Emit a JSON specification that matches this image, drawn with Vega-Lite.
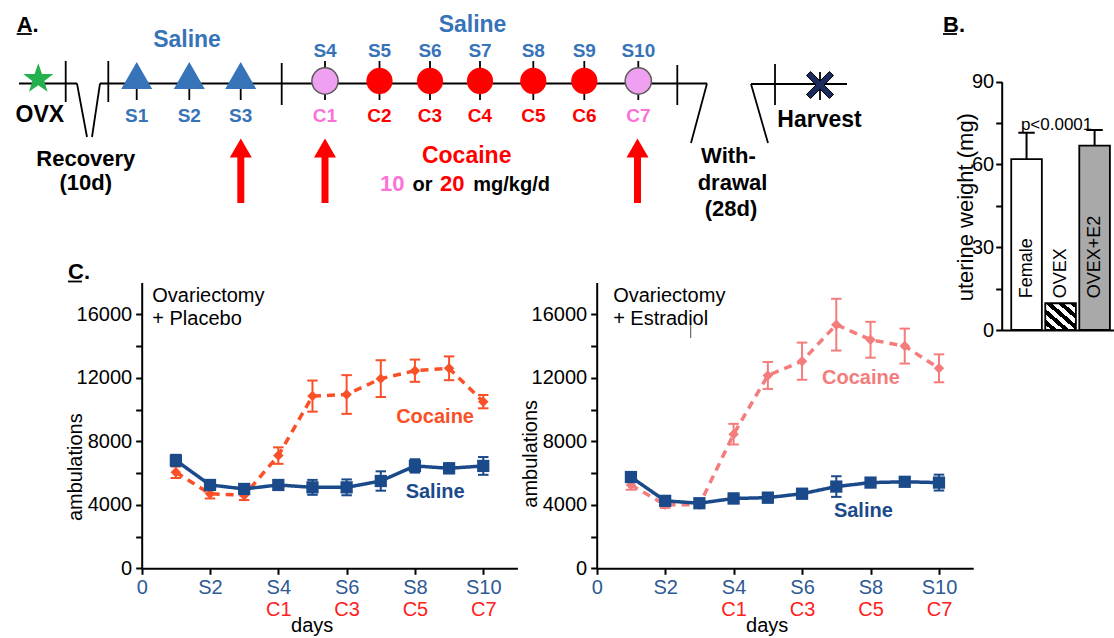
{
  "$schema": "https://vega.github.io/schema/vega-lite/v6.json",
  "width": 1114,
  "height": 638,
  "autosize": {"type": "none"},
  "padding": 0,
  "background": "#ffffff",
  "config": {
    "font": "Liberation Sans",
    "view": {"stroke": null},
    "axis": {"grid": false, "domainColor": "#000000", "domainWidth": 2, "tickColor": "#000000", "tickWidth": 2, "tickSize": 6, "labelColor": "#000000", "titleColor": "#000000", "labelFontSize": 20, "titleFontSize": 20, "titleFontWeight": "normal", "labelFlush": false, "labelOverlap": false}
  },
  "datasets": {
    "schematic": [
      {"kind": "line", "group": "black", "x": 19, "y": 83.5, "x2": 77, "y2": 83.5},
      {"kind": "line", "group": "black", "x": 77, "y": 83.5, "x2": 87, "y2": 137},
      {"kind": "line", "group": "black", "x": 92, "y": 137, "x2": 100, "y2": 83.5},
      {"kind": "line", "group": "black", "x": 100, "y": 83.5, "x2": 707, "y2": 83.5},
      {"kind": "line", "group": "black", "x": 707, "y": 83.5, "x2": 691, "y2": 143},
      {"kind": "line", "group": "black", "x": 751, "y": 84, "x2": 768, "y2": 143},
      {"kind": "line", "group": "black", "x": 751, "y": 84, "x2": 847, "y2": 84},
      {"kind": "line", "group": "black", "x": 65.7, "y": 61, "x2": 65.7, "y2": 102},
      {"kind": "line", "group": "black", "x": 108.3, "y": 61, "x2": 108.3, "y2": 102},
      {"kind": "line", "group": "black", "x": 281.7, "y": 63, "x2": 281.7, "y2": 105},
      {"kind": "line", "group": "black", "x": 677.3, "y": 65, "x2": 677.3, "y2": 105},
      {"kind": "line", "group": "black", "x": 775, "y": 64, "x2": 775, "y2": 105},
      {"kind": "line", "group": "black", "x": 136.7, "y": 85, "x2": 136.7, "y2": 100},
      {"kind": "line", "group": "black", "x": 189.3, "y": 85, "x2": 189.3, "y2": 100},
      {"kind": "line", "group": "black", "x": 240.7, "y": 85, "x2": 240.7, "y2": 100},
      {"kind": "line", "group": "black", "x": 325, "y": 61, "x2": 325, "y2": 100},
      {"kind": "line", "group": "black", "x": 379.5, "y": 61, "x2": 379.5, "y2": 100},
      {"kind": "line", "group": "black", "x": 430, "y": 61, "x2": 430, "y2": 100},
      {"kind": "line", "group": "black", "x": 480, "y": 61, "x2": 480, "y2": 100},
      {"kind": "line", "group": "black", "x": 533.3, "y": 61, "x2": 533.3, "y2": 100},
      {"kind": "line", "group": "black", "x": 584.3, "y": 61, "x2": 584.3, "y2": 100},
      {"kind": "line", "group": "black", "x": 638.3, "y": 61, "x2": 638.3, "y2": 100},
      {"kind": "line", "group": "black", "x": 820, "y": 72, "x2": 820, "y2": 100},
      {"kind": "line", "group": "black", "x": 16.7, "y": 34, "x2": 31.7, "y2": 34},
      {"kind": "line", "group": "black", "x": 943, "y": 34, "x2": 957, "y2": 34},
      {"kind": "line", "group": "black", "x": 68, "y": 281.5, "x2": 82, "y2": 281.5},
      {"kind": "hair", "group": "black", "x": 690.7, "y": 323, "x2": 690.7, "y2": 338},
      {"kind": "arrow", "group": "cocaine20", "x": 240.8, "y": 148, "y2": 203},
      {"kind": "arrow", "group": "cocaine20", "x": 325, "y": 148, "y2": 203},
      {"kind": "arrow", "group": "cocaine20", "x": 637.5, "y": 148, "y2": 203},
      {"kind": "star", "group": "ovx", "x": 38.3, "y": 79},
      {"kind": "triangle", "group": "saline", "x": 136.7, "y": 75.5},
      {"kind": "triangle", "group": "saline", "x": 189.3, "y": 75.5},
      {"kind": "triangle", "group": "saline", "x": 240.7, "y": 75.5},
      {"kind": "dose", "group": "cocaine10", "x": 325, "y": 81},
      {"kind": "dose", "group": "cocaine20", "x": 379.5, "y": 81},
      {"kind": "dose", "group": "cocaine20", "x": 430, "y": 81},
      {"kind": "dose", "group": "cocaine20", "x": 480, "y": 81},
      {"kind": "dose", "group": "cocaine20", "x": 533.3, "y": 81},
      {"kind": "dose", "group": "cocaine20", "x": 584.3, "y": 81},
      {"kind": "dose", "group": "cocaine10", "x": 638.3, "y": 81},
      {"kind": "harvest", "group": "harvest", "x": 820, "y": 85},
      {"kind": "label", "group": "black", "x": 39.8, "y": 121.7, "text": "OVX"},
      {"kind": "label2", "group": "black", "x": 85.8, "y": 165.5, "text": "Recovery"},
      {"kind": "label2", "group": "black", "x": 85.8, "y": 190, "text": "(10d)"},
      {"kind": "label", "group": "saline", "x": 187, "y": 46.7, "text": "Saline"},
      {"kind": "label", "group": "saline", "x": 472.5, "y": 31.7, "text": "Saline"},
      {"kind": "label", "group": "cocaine20", "x": 466.7, "y": 163.3, "text": "Cocaine"},
      {"kind": "label2", "group": "black", "x": 728.5, "y": 163.3, "text": "With-"},
      {"kind": "label2", "group": "black", "x": 732.5, "y": 189.5, "text": "drawal"},
      {"kind": "label2", "group": "black", "x": 731, "y": 216, "text": "(28d)"},
      {"kind": "label", "group": "black", "x": 819.5, "y": 126.7, "text": "Harvest"},
      {"kind": "sub", "group": "saline", "x": 136.7, "y": 121.7, "text": "S1"},
      {"kind": "sub", "group": "saline", "x": 189.3, "y": 121.7, "text": "S2"},
      {"kind": "sub", "group": "saline", "x": 240.7, "y": 121.7, "text": "S3"},
      {"kind": "sub", "group": "saline", "x": 325, "y": 56.7, "text": "S4"},
      {"kind": "sub", "group": "saline", "x": 379.5, "y": 56.7, "text": "S5"},
      {"kind": "sub", "group": "saline", "x": 430, "y": 56.7, "text": "S6"},
      {"kind": "sub", "group": "saline", "x": 480, "y": 56.7, "text": "S7"},
      {"kind": "sub", "group": "saline", "x": 533.3, "y": 56.7, "text": "S8"},
      {"kind": "sub", "group": "saline", "x": 584.3, "y": 56.7, "text": "S9"},
      {"kind": "sub", "group": "saline", "x": 638.3, "y": 56.7, "text": "S10"},
      {"kind": "sub", "group": "cocaine10label", "x": 325, "y": 122, "text": "C1"},
      {"kind": "sub", "group": "cocaine20", "x": 379.5, "y": 122, "text": "C2"},
      {"kind": "sub", "group": "cocaine20", "x": 430, "y": 122, "text": "C3"},
      {"kind": "sub", "group": "cocaine20", "x": 480, "y": 122, "text": "C4"},
      {"kind": "sub", "group": "cocaine20", "x": 533.3, "y": 122, "text": "C5"},
      {"kind": "sub", "group": "cocaine20", "x": 584.3, "y": 122, "text": "C6"},
      {"kind": "sub", "group": "cocaine10label", "x": 638.3, "y": 122, "text": "C7"},
      {"kind": "panel", "group": "black", "x": 16.7, "y": 31.7, "text": "A."},
      {"kind": "panel", "group": "black", "x": 943, "y": 31.7, "text": "B."},
      {"kind": "panel", "group": "black", "x": 68, "y": 279, "text": "C."},
      {"kind": "dosenum", "group": "cocaine10label", "x": 380, "y": 190.5, "text": "10"},
      {"kind": "doseword", "group": "black", "x": 412.5, "y": 190.5, "text": "or"},
      {"kind": "dosenum", "group": "cocaine20", "x": 440, "y": 190.5, "text": "20"},
      {"kind": "doseword", "group": "black", "x": 473.3, "y": 190.5, "text": "mg/kg/d"}
    ],
    "uterine": [
      {"group": "Female", "weight": 61.9, "hi": 71.5},
      {"group": "OVEX", "weight": 9.7, "hi": 9.7},
      {"group": "OVEX+E2", "weight": 66.8, "hi": 72.5}
    ],
    "uterineNote": [
      {"group": "OVEX", "weight": 72.6, "label": "p<0.0001"}
    ],
    "ambulations": [
      {"treatment": "Placebo", "series": "Cocaine", "day": 1, "mean": 6050, "lo": 5690, "hi": 6410},
      {"treatment": "Placebo", "series": "Cocaine", "day": 2, "mean": 4700, "lo": 4400, "hi": 5000},
      {"treatment": "Placebo", "series": "Cocaine", "day": 3, "mean": 4600, "lo": 4300, "hi": 4900},
      {"treatment": "Placebo", "series": "Cocaine", "day": 4, "mean": 7100, "lo": 6580, "hi": 7620},
      {"treatment": "Placebo", "series": "Cocaine", "day": 5, "mean": 10850, "lo": 9870, "hi": 11830},
      {"treatment": "Placebo", "series": "Cocaine", "day": 6, "mean": 10950, "lo": 9730, "hi": 12170},
      {"treatment": "Placebo", "series": "Cocaine", "day": 7, "mean": 11950, "lo": 10790, "hi": 13110},
      {"treatment": "Placebo", "series": "Cocaine", "day": 8, "mean": 12450, "lo": 11750, "hi": 13150},
      {"treatment": "Placebo", "series": "Cocaine", "day": 9, "mean": 12600, "lo": 11850, "hi": 13350},
      {"treatment": "Placebo", "series": "Cocaine", "day": 10, "mean": 10500, "lo": 10080, "hi": 10920},
      {"treatment": "Placebo", "series": "Saline", "day": 1, "mean": 6800, "lo": 6450, "hi": 7150},
      {"treatment": "Placebo", "series": "Saline", "day": 2, "mean": 5250, "lo": 4950, "hi": 5550},
      {"treatment": "Placebo", "series": "Saline", "day": 3, "mean": 5000, "lo": 4750, "hi": 5250},
      {"treatment": "Placebo", "series": "Saline", "day": 4, "mean": 5250, "lo": 4950, "hi": 5550},
      {"treatment": "Placebo", "series": "Saline", "day": 5, "mean": 5100, "lo": 4630, "hi": 5570},
      {"treatment": "Placebo", "series": "Saline", "day": 6, "mean": 5100, "lo": 4600, "hi": 5600},
      {"treatment": "Placebo", "series": "Saline", "day": 7, "mean": 5500, "lo": 4890, "hi": 6110},
      {"treatment": "Placebo", "series": "Saline", "day": 8, "mean": 6450, "lo": 6030, "hi": 6870},
      {"treatment": "Placebo", "series": "Saline", "day": 9, "mean": 6300, "lo": 5990, "hi": 6610},
      {"treatment": "Placebo", "series": "Saline", "day": 10, "mean": 6450, "lo": 5890, "hi": 7010},
      {"treatment": "Estradiol", "series": "Cocaine", "day": 1, "mean": 5250, "lo": 4950, "hi": 5550},
      {"treatment": "Estradiol", "series": "Cocaine", "day": 2, "mean": 4000, "lo": 3800, "hi": 4200},
      {"treatment": "Estradiol", "series": "Cocaine", "day": 3, "mean": 4000, "lo": 3800, "hi": 4200},
      {"treatment": "Estradiol", "series": "Cocaine", "day": 4, "mean": 8450, "lo": 7800, "hi": 9100},
      {"treatment": "Estradiol", "series": "Cocaine", "day": 5, "mean": 12150, "lo": 11300, "hi": 13000},
      {"treatment": "Estradiol", "series": "Cocaine", "day": 6, "mean": 13050, "lo": 11880, "hi": 14220},
      {"treatment": "Estradiol", "series": "Cocaine", "day": 7, "mean": 15350, "lo": 13720, "hi": 16980},
      {"treatment": "Estradiol", "series": "Cocaine", "day": 8, "mean": 14400, "lo": 13270, "hi": 15530},
      {"treatment": "Estradiol", "series": "Cocaine", "day": 9, "mean": 14000, "lo": 12900, "hi": 15100},
      {"treatment": "Estradiol", "series": "Cocaine", "day": 10, "mean": 12600, "lo": 11720, "hi": 13480},
      {"treatment": "Estradiol", "series": "Saline", "day": 1, "mean": 5750, "lo": 5450, "hi": 6050},
      {"treatment": "Estradiol", "series": "Saline", "day": 2, "mean": 4250, "lo": 3950, "hi": 4550},
      {"treatment": "Estradiol", "series": "Saline", "day": 3, "mean": 4100, "lo": 3850, "hi": 4350},
      {"treatment": "Estradiol", "series": "Saline", "day": 4, "mean": 4400, "lo": 4100, "hi": 4700},
      {"treatment": "Estradiol", "series": "Saline", "day": 5, "mean": 4450, "lo": 4150, "hi": 4750},
      {"treatment": "Estradiol", "series": "Saline", "day": 6, "mean": 4700, "lo": 4400, "hi": 5000},
      {"treatment": "Estradiol", "series": "Saline", "day": 7, "mean": 5150, "lo": 4500, "hi": 5800},
      {"treatment": "Estradiol", "series": "Saline", "day": 8, "mean": 5400, "lo": 5150, "hi": 5650},
      {"treatment": "Estradiol", "series": "Saline", "day": 9, "mean": 5450, "lo": 5200, "hi": 5700},
      {"treatment": "Estradiol", "series": "Saline", "day": 10, "mean": 5400, "lo": 4900, "hi": 5900}
    ],
    "annotations": [
      {"treatment": "Placebo", "series": "Cocaine", "style": "bold", "day": 8.59, "value": 9160, "text": "Cocaine"},
      {"treatment": "Placebo", "series": "Saline", "style": "bold", "day": 8.59, "value": 4420, "text": "Saline"},
      {"treatment": "Placebo", "series": "note", "style": "note", "day": 0.31, "value": 16800, "text": "Ovariectomy"},
      {"treatment": "Placebo", "series": "note", "style": "note", "day": 0.31, "value": 15330, "text": "+ Placebo"},
      {"treatment": "Estradiol", "series": "Cocaine", "style": "bold", "day": 7.72, "value": 11640, "text": "Cocaine"},
      {"treatment": "Estradiol", "series": "Saline", "style": "bold", "day": 7.79, "value": 3260, "text": "Saline"},
      {"treatment": "Estradiol", "series": "note", "style": "note", "day": 0.48, "value": 16800, "text": "Ovariectomy"},
      {"treatment": "Estradiol", "series": "note", "style": "note", "day": 0.48, "value": 15330, "text": "+ Estradiol"}
    ]
  },
  "layer": [
    {
      "data": {"name": "schematic"},
      "encoding": {
        "x": {"field": "x", "type": "quantitative", "scale": {"domain": [0, 1114], "range": [0, 1114], "nice": false, "zero": false}, "axis": null},
        "y": {"field": "y", "type": "quantitative", "scale": {"domain": [0, 638], "range": [0, 638], "nice": false, "zero": false}, "axis": null},
        "color": {"field": "group", "type": "nominal", "scale": {"domain": ["black", "saline", "cocaine10", "cocaine10label", "cocaine20", "ovx", "harvest"], "range": ["#000000", "#3773b9", "#f0a0f0", "#fb72d9", "#ff0000", "#22b14c", "#1b2b5e"]}, "legend": null}
      },
      "layer": [
        {"transform": [{"filter": "datum.kind === 'line'"}], "mark": {"type": "rule", "strokeWidth": 1.8}, "encoding": {"x2": {"field": "x2"}, "y2": {"field": "y2"}}},
        {"transform": [{"filter": "datum.kind === 'hair'"}], "mark": {"type": "rule", "strokeWidth": 1, "opacity": 0.7}, "encoding": {"x2": {"field": "x2"}, "y2": {"field": "y2"}}},
        {"transform": [{"filter": "datum.kind === 'arrow'"}], "mark": {"type": "rule", "strokeWidth": 7, "strokeCap": "butt"}, "encoding": {"y2": {"field": "y2"}}},
        {"transform": [{"filter": "datum.kind === 'arrow'"}], "mark": {"type": "point", "shape": "triangle-up", "size": 484, "filled": true, "opacity": 1}},
        {"transform": [{"filter": "datum.kind === 'star'"}], "mark": {"type": "point", "shape": "M0,-1L0.235,-0.324L0.951,-0.309L0.38,0.124L0.588,0.809L0,0.4L-0.588,0.809L-0.38,0.124L-0.951,-0.309L-0.235,-0.324Z", "size": 1000, "filled": true, "opacity": 1}},
        {"transform": [{"filter": "datum.kind === 'triangle'"}], "mark": {"type": "point", "shape": "triangle-up", "size": 960, "filled": true, "opacity": 1}},
        {"transform": [{"filter": "datum.kind === 'dose' && datum.group === 'cocaine10'"}], "mark": {"type": "point", "shape": "circle", "size": 690, "filled": true, "opacity": 1, "stroke": "#5a5a5a", "strokeWidth": 1.5}},
        {"transform": [{"filter": "datum.kind === 'dose' && datum.group === 'cocaine20'"}], "mark": {"type": "point", "shape": "circle", "size": 690, "filled": true, "opacity": 1}},
        {"transform": [{"filter": "datum.kind === 'harvest'"}], "mark": {"type": "point", "shape": "M-1,-0.7L-0.7,-1L0,-0.3L0.7,-1L1,-0.7L0.3,0L1,0.7L0.7,1L0,0.3L-0.7,1L-1,0.7L-0.3,0Z", "size": 729, "filled": true, "opacity": 1, "stroke": "#000000", "strokeWidth": 1}},
        {"transform": [{"filter": "datum.kind === 'label'"}], "mark": {"type": "text", "fontSize": 23, "fontWeight": "bold", "align": "center", "baseline": "alphabetic"}, "encoding": {"text": {"field": "text"}}},
        {"transform": [{"filter": "datum.kind === 'label2'"}], "mark": {"type": "text", "fontSize": 22, "fontWeight": "bold", "align": "center", "baseline": "alphabetic"}, "encoding": {"text": {"field": "text"}}},
        {"transform": [{"filter": "datum.kind === 'sub'"}], "mark": {"type": "text", "fontSize": 19, "fontWeight": "bold", "align": "center", "baseline": "alphabetic"}, "encoding": {"text": {"field": "text"}}},
        {"transform": [{"filter": "datum.kind === 'panel'"}], "mark": {"type": "text", "fontSize": 22, "fontWeight": "bold", "align": "left", "baseline": "alphabetic"}, "encoding": {"text": {"field": "text"}}},
        {"transform": [{"filter": "datum.kind === 'dosenum'"}], "mark": {"type": "text", "fontSize": 22, "fontWeight": "bold", "align": "left", "baseline": "alphabetic"}, "encoding": {"text": {"field": "text"}}},
        {"transform": [{"filter": "datum.kind === 'doseword'"}], "mark": {"type": "text", "fontSize": 20, "fontWeight": "bold", "align": "left", "baseline": "alphabetic"}, "encoding": {"text": {"field": "text"}}}
      ]
    },
    {
      "encoding": {
        "x": {"field": "group", "type": "nominal", "sort": ["Female", "OVEX", "OVEX+E2"], "scale": {"domain": ["Female", "OVEX", "OVEX+E2"], "range": [1001.7, 1114], "paddingInner": 0.1, "paddingOuter": 0.2, "align": 0.7}, "axis": null},
        "y": {"field": "weight", "type": "quantitative", "scale": {"domain": [0, 90], "range": [330, 81.7], "nice": false, "zero": false}, "axis": null}
      },
      "layer": [
        {"data": {"name": "uterine"}, "transform": [{"filter": "datum.group !== 'OVEX'"}], "mark": {"type": "bar", "stroke": "#000000", "strokeWidth": 1.8},
         "encoding": {
           "x": {"field": "group", "type": "nominal", "sort": ["Female", "OVEX", "OVEX+E2"], "scale": {"domain": ["Female", "OVEX", "OVEX+E2"], "range": [1001.7, 1114], "paddingInner": 0.1, "paddingOuter": 0.2, "align": 0.7}, "axis": {"orient": "bottom", "offset": -308, "labels": false, "ticks": false, "title": null}},
           "y": {"field": "weight", "type": "quantitative", "scale": {"domain": [0, 90], "range": [330, 81.7], "nice": false, "zero": false}, "axis": {"orient": "left", "offset": -1001.7, "values": [0, 15, 30, 45, 60, 75, 90], "labelExpr": "datum.value % 30 === 0 ? datum.label : ''", "labelPadding": 2, "title": "uterine weight (mg)", "titleFontSize": 22, "titleAngle": 270, "titleX": -29.5, "titleY": 206.7, "titleAlign": "center", "titleBaseline": "alphabetic"}},
           "color": {"field": "group", "type": "nominal", "scale": {"domain": ["Female", "OVEX", "OVEX+E2"], "range": ["#ffffff", "#ffffff", "#a9a9a9"]}, "legend": null}}},
        {"data": {"name": "uterine"}, "transform": [{"filter": "datum.group === 'OVEX'"}], "mark": {"type": "bar", "stroke": "#000000", "strokeWidth": 1.8, "fill": {"gradient": "linear", "x1": 0, "y1": 1, "x2": 1, "y2": 0, "stops": [
          {"offset": 0, "color": "#ffffff"}, {"offset": 0.1, "color": "#ffffff"}, {"offset": 0.1, "color": "#000000"}, {"offset": 0.2, "color": "#000000"},
          {"offset": 0.2, "color": "#ffffff"}, {"offset": 0.3, "color": "#ffffff"}, {"offset": 0.3, "color": "#000000"}, {"offset": 0.4, "color": "#000000"},
          {"offset": 0.4, "color": "#ffffff"}, {"offset": 0.5, "color": "#ffffff"}, {"offset": 0.5, "color": "#000000"}, {"offset": 0.6, "color": "#000000"},
          {"offset": 0.6, "color": "#ffffff"}, {"offset": 0.7, "color": "#ffffff"}, {"offset": 0.7, "color": "#000000"}, {"offset": 0.8, "color": "#000000"},
          {"offset": 0.8, "color": "#ffffff"}, {"offset": 0.9, "color": "#ffffff"}, {"offset": 0.9, "color": "#000000"}, {"offset": 1, "color": "#000000"}
        ]}}},
        {"data": {"name": "uterine"}, "transform": [{"filter": "datum.hi > datum.weight"}], "mark": {"type": "rule", "strokeWidth": 2, "color": "#000000"}, "encoding": {"y2": {"field": "hi"}}},
        {"data": {"name": "uterine"}, "transform": [{"filter": "datum.hi > datum.weight"}], "mark": {"type": "point", "shape": "stroke", "size": 270, "strokeWidth": 2, "filled": false, "opacity": 1, "color": "#000000"}, "encoding": {"y": {"field": "hi", "type": "quantitative", "axis": null}}},
        {"data": {"name": "uterine"}, "mark": {"type": "text", "angle": 270, "align": "left", "baseline": "middle", "fontSize": 18, "color": "#000000"}, "encoding": {"y": {"datum": 11.5, "type": "quantitative", "axis": null}, "text": {"field": "group"}}},
        {"data": {"name": "uterineNote"}, "mark": {"type": "text", "fontSize": 17, "baseline": "alphabetic", "align": "center", "dx": -4, "color": "#000000"}, "encoding": {"text": {"field": "label"}}}
      ],
      "resolve": {"axis": {"x": "independent", "y": "independent"}}
    },
    {
      "encoding": {
        "x": {"field": "day", "type": "quantitative", "scale": {"domain": [0, 11], "range": [141.7, 517.4], "nice": false, "zero": false}, "axis": null},
        "y": {"field": "mean", "type": "quantitative", "scale": {"domain": [0, 18000], "range": [568.3, 282.6], "nice": false, "zero": false}, "axis": null},
        "color": {"field": "series", "type": "nominal", "scale": {"domain": ["Saline", "Cocaine", "note"], "range": ["#1b4a8a", "#fa5028", "#000000"]}, "legend": null}
      },
      "layer": [
        {"data": {"name": "ambulations"}, "transform": [{"filter": "datum.treatment === 'Placebo'"}], "mark": {"type": "rule", "strokeWidth": 2},
         "encoding": {
           "x": {"field": "day", "type": "quantitative", "scale": {"domain": [0, 11], "range": [141.7, 517.4], "nice": false, "zero": false}, "axis": {"orient": "bottom", "offset": -69.7, "values": [0, 2, 4, 6, 8, 10], "labelExpr": "datum.value === 0 ? '0' : 'S' + datum.value", "labelColor": "#2d5a94", "labelPadding": 3, "title": null}},
           "y": {"field": "lo", "type": "quantitative", "scale": {"domain": [0, 18000], "range": [568.3, 282.6], "nice": false, "zero": false}, "axis": null},
           "y2": {"field": "hi"}}},
        {"data": {"name": "ambulations"}, "transform": [{"filter": "datum.treatment === 'Placebo'"}, {"fold": ["lo", "hi"], "as": ["bound", "bv"]}], "mark": {"type": "point", "shape": "stroke", "size": 110, "strokeWidth": 2, "filled": false, "opacity": 1},
         "encoding": {"y": {"field": "bv", "type": "quantitative", "scale": {"domain": [0, 18000], "range": [568.3, 282.6], "nice": false, "zero": false}, "axis": null}}},
        {"data": {"name": "ambulations"}, "transform": [{"filter": "datum.treatment === 'Placebo'"}], "mark": {"type": "line", "strokeWidth": 3.5},
         "encoding": {
           "x": {"field": "day", "type": "quantitative", "scale": {"domain": [0, 11], "range": [141.7, 517.4], "nice": false, "zero": false}, "axis": {"orient": "bottom", "offset": -69.7, "values": [4, 6, 8, 10], "labelExpr": "'C' + (datum.value - 3)", "labelColor": "#ff2020", "ticks": false, "tickSize": 0, "domain": false, "labelPadding": 31, "title": "days", "titleX": 311.7, "titleY": 62.7, "titleAlign": "center", "titleBaseline": "alphabetic"}},
           "y": {"field": "mean", "type": "quantitative", "scale": {"domain": [0, 18000], "range": [568.3, 282.6], "nice": false, "zero": false}, "axis": {"orient": "left", "offset": -141.7, "values": [0, 2000, 4000, 6000, 8000, 10000, 12000, 14000, 16000], "format": "d", "labelExpr": "datum.value % 4000 === 0 ? datum.label : ''", "labelPadding": 4, "title": "ambulations", "titleAngle": 270, "titleX": -60, "titleY": 466.7, "titleAlign": "center", "titleBaseline": "alphabetic"}},
           "strokeDash": {"field": "series", "type": "nominal", "scale": {"domain": ["Saline", "Cocaine"], "range": [[1, 0], [8, 6]]}, "legend": null}}},
        {"data": {"name": "ambulations"}, "transform": [{"filter": "datum.treatment === 'Placebo' && datum.series === 'Cocaine'"}], "mark": {"type": "point", "shape": "diamond", "size": 110, "filled": true, "opacity": 1}},
        {"data": {"name": "ambulations"}, "transform": [{"filter": "datum.treatment === 'Placebo' && datum.series === 'Saline'"}], "mark": {"type": "point", "shape": "square", "size": 150, "filled": true, "opacity": 1}},
        {"data": {"name": "annotations"}, "transform": [{"filter": "datum.treatment === 'Placebo' && datum.style === 'bold'"}], "mark": {"type": "text", "fontSize": 20, "fontWeight": "bold", "align": "center", "baseline": "alphabetic"},
         "encoding": {"y": {"field": "value", "type": "quantitative", "axis": null}, "text": {"field": "text"}}},
        {"data": {"name": "annotations"}, "transform": [{"filter": "datum.treatment === 'Placebo' && datum.style === 'note'"}], "mark": {"type": "text", "fontSize": 20, "align": "left", "baseline": "alphabetic"},
         "encoding": {"y": {"field": "value", "type": "quantitative", "axis": null}, "text": {"field": "text"}}}
      ],
      "resolve": {"axis": {"x": "independent", "y": "independent"}}
    },
    {
      "encoding": {
        "x": {"field": "day", "type": "quantitative", "scale": {"domain": [0, 11], "range": [596.7, 973.2], "nice": false, "zero": false}, "axis": null},
        "y": {"field": "mean", "type": "quantitative", "scale": {"domain": [0, 18000], "range": [568.3, 282.6], "nice": false, "zero": false}, "axis": null},
        "color": {"field": "series", "type": "nominal", "scale": {"domain": ["Saline", "Cocaine", "note"], "range": ["#1b4a8a", "#f47c7c", "#000000"]}, "legend": null}
      },
      "layer": [
        {"data": {"name": "ambulations"}, "transform": [{"filter": "datum.treatment === 'Estradiol'"}], "mark": {"type": "rule", "strokeWidth": 2},
         "encoding": {
           "x": {"field": "day", "type": "quantitative", "scale": {"domain": [0, 11], "range": [596.7, 973.2], "nice": false, "zero": false}, "axis": {"orient": "bottom", "offset": -69.7, "values": [0, 2, 4, 6, 8, 10], "labelExpr": "datum.value === 0 ? '0' : 'S' + datum.value", "labelColor": "#2d5a94", "labelPadding": 3, "title": null}},
           "y": {"field": "lo", "type": "quantitative", "scale": {"domain": [0, 18000], "range": [568.3, 282.6], "nice": false, "zero": false}, "axis": null},
           "y2": {"field": "hi"}}},
        {"data": {"name": "ambulations"}, "transform": [{"filter": "datum.treatment === 'Estradiol'"}, {"fold": ["lo", "hi"], "as": ["bound", "bv"]}], "mark": {"type": "point", "shape": "stroke", "size": 110, "strokeWidth": 2, "filled": false, "opacity": 1},
         "encoding": {"y": {"field": "bv", "type": "quantitative", "scale": {"domain": [0, 18000], "range": [568.3, 282.6], "nice": false, "zero": false}, "axis": null}}},
        {"data": {"name": "ambulations"}, "transform": [{"filter": "datum.treatment === 'Estradiol'"}], "mark": {"type": "line", "strokeWidth": 3.5},
         "encoding": {
           "x": {"field": "day", "type": "quantitative", "scale": {"domain": [0, 11], "range": [596.7, 973.2], "nice": false, "zero": false}, "axis": {"orient": "bottom", "offset": -69.7, "values": [4, 6, 8, 10], "labelExpr": "'C' + (datum.value - 3)", "labelColor": "#ff2020", "ticks": false, "tickSize": 0, "domain": false, "labelPadding": 31, "title": "days", "titleX": 766.7, "titleY": 62.7, "titleAlign": "center", "titleBaseline": "alphabetic"}},
           "y": {"field": "mean", "type": "quantitative", "scale": {"domain": [0, 18000], "range": [568.3, 282.6], "nice": false, "zero": false}, "axis": {"orient": "left", "offset": -596.7, "values": [0, 2000, 4000, 6000, 8000, 10000, 12000, 14000, 16000], "format": "d", "labelExpr": "datum.value % 4000 === 0 ? datum.label : ''", "labelPadding": 4, "title": "ambulations", "titleAngle": 270, "titleX": -60, "titleY": 453.3, "titleAlign": "center", "titleBaseline": "alphabetic"}},
           "strokeDash": {"field": "series", "type": "nominal", "scale": {"domain": ["Saline", "Cocaine"], "range": [[1, 0], [8, 6]]}, "legend": null}}},
        {"data": {"name": "ambulations"}, "transform": [{"filter": "datum.treatment === 'Estradiol' && datum.series === 'Cocaine'"}], "mark": {"type": "point", "shape": "diamond", "size": 110, "filled": true, "opacity": 1}},
        {"data": {"name": "ambulations"}, "transform": [{"filter": "datum.treatment === 'Estradiol' && datum.series === 'Saline'"}], "mark": {"type": "point", "shape": "square", "size": 150, "filled": true, "opacity": 1}},
        {"data": {"name": "annotations"}, "transform": [{"filter": "datum.treatment === 'Estradiol' && datum.style === 'bold'"}], "mark": {"type": "text", "fontSize": 20, "fontWeight": "bold", "align": "center", "baseline": "alphabetic"},
         "encoding": {"y": {"field": "value", "type": "quantitative", "axis": null}, "text": {"field": "text"}}},
        {"data": {"name": "annotations"}, "transform": [{"filter": "datum.treatment === 'Estradiol' && datum.style === 'note'"}], "mark": {"type": "text", "fontSize": 20, "align": "left", "baseline": "alphabetic"},
         "encoding": {"y": {"field": "value", "type": "quantitative", "axis": null}, "text": {"field": "text"}}}
      ],
      "resolve": {"axis": {"x": "independent", "y": "independent"}}
    }
  ],
  "resolve": {"scale": {"x": "independent", "y": "independent", "color": "independent"}}
}
